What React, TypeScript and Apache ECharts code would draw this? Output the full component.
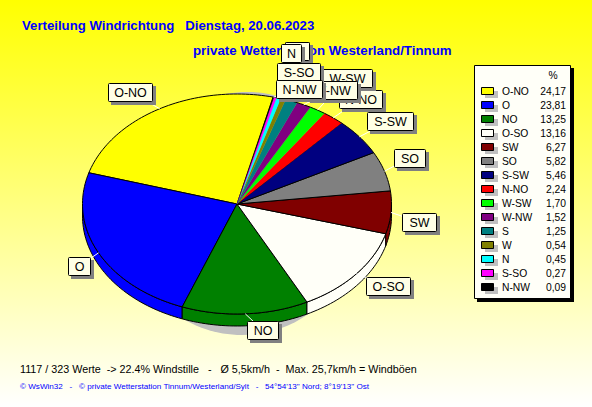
import React, { useEffect, useRef } from "react";
import * as echarts from "echarts";

const directions = ["O-NO","O","NO","O-SO","SW","SO","S-SW","N-NO","W-SW","W-NW","S","W","N","S-SO","N-NW"];
const percents = [24.17,23.81,13.25,13.16,6.27,5.82,5.46,2.24,1.70,1.52,1.25,0.54,0.45,0.27,0.09];
const percentLabels = ["24,17","23,81","13,25","13,16","6,27","5,82","5,46","2,24","1,70","1,52","1,25","0,54","0,45","0,27","0,09"];
const colors = ["#ffff00","#0000ff","#008000","#fffff8","#800000","#808080","#000080","#ff0000","#00ff00","#800080","#008080","#808000","#00ffff","#ff00ff","#000000"];

const titleLine1 = "Verteilung Windrichtung   Dienstag, 20.06.2023";
const titleLine2 = "private Wetterstation Westerland/Tinnum";
const statsLine = "1117 / 323 Werte  -> 22.4% Windstille   -   Ø 5,5km/h  -  Max. 25,7km/h = Windböen";
const footerLine = "© WsWin32   -   © private Wetterstation Tinnum/Westerland/Sylt   -   54°54'13\" Nord; 8°19'13\" Ost";

// layout
const CX = 237, CY = 204, RX = 154.5, RY = 110, DEPTH = 12, START = 76.5;
const FONT = "'Liberation Sans', Arial, sans-serif";
// label box placement, in drawing order: name, x, y, width
const labelLayout: [string, number, number, number][] = [
  ["N-NO", 339, 90, 43],
  ["W-SW", 322, 69, 50],
  ["W-NW", 307, 81, 50],
  ["S-SW", 367, 112, 46],
  ["SO", 394, 149, 31],
  ["SW", 402, 213, 34],
  ["O-SO", 366, 277, 44],
  ["NO", 247, 321, 31],
  ["O", 68, 257, 22],
  ["O-NO", 108, 83, 44],
  ["S", 285, 42, 24],
  ["W", 285, 42, 24],
  ["N", 281, 44, 20],
  ["S-SO", 277, 63, 43],
  ["N-NW", 276, 80, 46],
];

function point(tDeg: number, dy = 0): number[] {
  const t = (tDeg * Math.PI) / 180;
  return [CX + RX * Math.cos(t), CY - RY * Math.sin(t) + dy];
}

function arcPoints(a0: number, a1: number, dy = 0): number[][] {
  const n = Math.max(2, Math.ceil(Math.abs(a1 - a0) / 1.5));
  const pts: number[][] = [];
  for (let i = 0; i <= n; i++) pts.push(point(a0 + ((a1 - a0) * i) / n, dy));
  return pts;
}

function cumulative(index: number): number {
  let s = 0;
  for (let i = 0; i < index; i++) s += percents[i];
  return s;
}

function renderSlice(_p: any, api: any) {
  const i = api.value(0);
  const share = api.value(2);
  const a0 = START + (api.value(1) / 100) * 360;
  const a1 = a0 + (share / 100) * 360;
  const fill = colors[i];
  const children: any[] = [];
  // visible side: lower half of the ellipse (180..360 deg)
  const segs: number[][] = [];
  for (const shift of [0, 360]) {
    const lo = Math.max(a0, 180 + shift);
    const hi = Math.min(a1, 360 + shift);
    if (hi > lo) segs.push([lo, hi]);
  }
  for (const [lo, hi] of segs) {
    children.push({
      type: "polygon",
      shape: { points: arcPoints(lo, hi).concat(arcPoints(hi, lo, DEPTH)) },
      style: { fill, stroke: "#000", lineWidth: 1 },
    });
  }
  const thin = share < 3;
  children.push({
    type: "polygon",
    shape: { points: [[CX, CY], ...arcPoints(a0, a1)] },
    style: thin ? { fill, stroke: fill, lineWidth: 0.3 } : { fill, stroke: "#000", lineWidth: 1 },
  });
  if (thin) {
    children.push({
      type: "polyline",
      shape: { points: arcPoints(a0, a1) },
      style: { fill: "none", stroke: "#000", lineWidth: 1 },
    });
  }
  return { type: "group", children };
}

function labelGraphics(): any[] {
  const out: any[] = [];
  labelLayout.forEach(([name, x, y, w]) => {
    const h = 18;
    const i = directions.indexOf(name);
    const mid = START + ((cumulative(i) + percents[i] / 2) / 100) * 360;
    const edge = point(mid);
    out.push({
      type: "line",
      shape: { x1: edge[0], y1: edge[1], x2: x + w / 2, y2: y + h / 2 },
      style: { stroke: "#ffffff", lineWidth: 1 },
    });
  });
  labelLayout.forEach(([name, x, y, w]) => {
    const h = 18;
    out.push({ type: "rect", shape: { x: x + 3, y: y + 3, width: w + 1, height: h + 1 }, style: { fill: "#808080" } });
    out.push({ type: "rect", shape: { x: x + 0.5, y: y + 0.5, width: w, height: h, r: 1 }, style: { fill: "#ffffe6", stroke: "#000", lineWidth: 1 } });
    out.push({
      type: "text",
      x: x + w / 2 + 0.5,
      y: y + h / 2 + 1,
      style: { text: name, fill: "#000", font: `12.5px ${FONT}`, align: "center", verticalAlign: "middle" },
    });
  });
  return out;
}

function legendGraphics(): any[] {
  const out: any[] = [
    { type: "rect", shape: { x: 477, y: 68, width: 97, height: 234 }, style: { fill: "#000" } },
    { type: "rect", shape: { x: 474.5, y: 65.5, width: 96, height: 233 }, style: { fill: "#fffff8", stroke: "#000", lineWidth: 1 } },
    { type: "text", x: 553, y: 75, style: { text: "%", fill: "#000", font: `10.3px ${FONT}`, align: "center", verticalAlign: "middle" } },
  ];
  directions.forEach((name, i) => {
    const y = 91 + i * 14;
    out.push({ type: "rect", shape: { x: 485, y: y, width: 13, height: 7 }, style: { fill: "#c0c0c0" } });
    out.push({ type: "rect", shape: { x: 481.5, y: y - 3.5, width: 12, height: 7 }, style: { fill: colors[i], stroke: "#000", lineWidth: 1 } });
    out.push({ type: "text", x: 502, y: y + 0.5, style: { text: name, fill: "#000", font: `10.3px ${FONT}`, align: "left", verticalAlign: "middle" } });
    out.push({ type: "text", x: 566, y: y + 0.5, style: { text: percentLabels[i], fill: "#000", font: `10.3px ${FONT}`, align: "right", verticalAlign: "middle" } });
  });
  return out;
}

export default function App() {
  const ref = useRef<HTMLDivElement>(null);
  useEffect(() => {
    const chart = echarts.init(ref.current!, undefined, { renderer: "svg" });
    chart.setOption({
      animation: false,
      backgroundColor: new echarts.graphic.LinearGradient(0, 0, 0, 1, [
        { offset: 0, color: "#ffff00" },
        { offset: 1, color: "#ffffff" },
      ]),
      series: [
        {
          type: "custom",
          coordinateSystem: "none",
          renderItem: renderSlice,
          data: percents.map((v, i) => [i, cumulative(i), v]),
          silent: true,
          z: 2,
        },
      ],
      graphic: {
        elements: [
          { type: "ellipse", z: 1, shape: { cx: 242, cy: 235, rx: 108, ry: 100 }, style: { fill: "#c0c0c0" } },
          { type: "ellipse", z: 1, shape: { cx: 247, cy: 112, rx: 50, ry: 20 }, style: { fill: "#c0c0c0" } },
          { type: "text", z: 5, x: 22, y: 25, style: { text: titleLine1, fill: "#0000ff", font: `bold 13.2px ${FONT}`, verticalAlign: "middle" } },
          { type: "text", z: 5, x: 193, y: 50, style: { text: titleLine2, fill: "#0000ff", font: `bold 13.3px ${FONT}`, verticalAlign: "middle" } },
          { type: "text", z: 5, x: 20, y: 369, style: { text: statsLine, fill: "#000", font: `10.75px ${FONT}`, verticalAlign: "middle" } },
          { type: "text", z: 5, x: 20, y: 386, style: { text: footerLine, fill: "#0000ff", font: `8.1px ${FONT}`, verticalAlign: "middle" } },
          ...labelGraphics().map((e) => ({ ...e, z: 6 })),
          ...legendGraphics().map((e) => ({ ...e, z: 6 })),
        ],
      },
    });
    return () => chart.dispose();
  }, []);
  return <div ref={ref} style={{ position: "fixed", left: 0, top: 0, width: 592, height: 407 }} />;
}
